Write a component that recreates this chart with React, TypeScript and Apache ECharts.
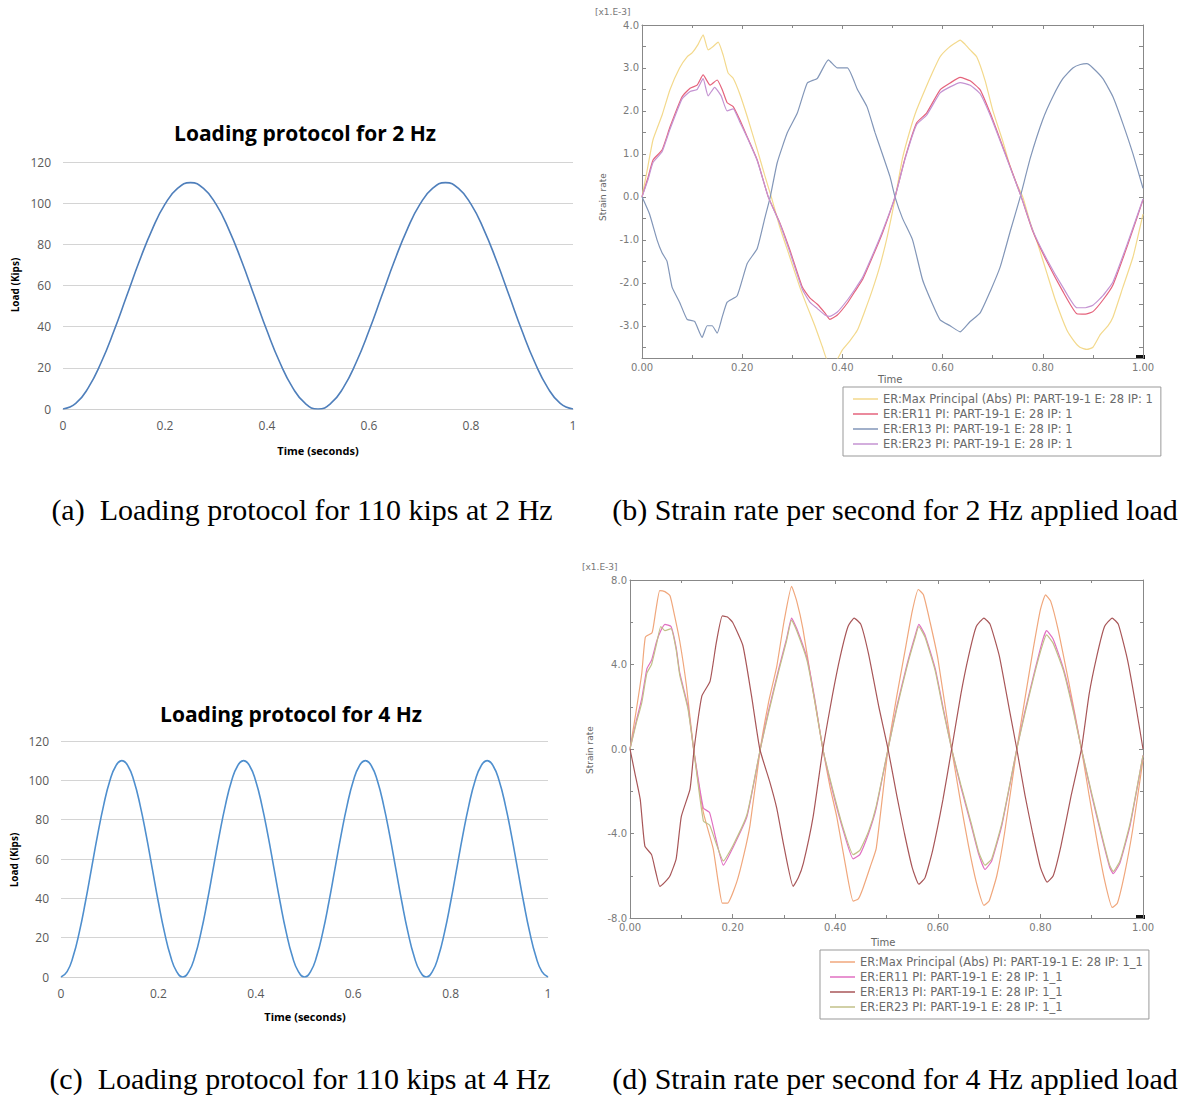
import React, { useEffect, useRef } from "react";
import * as echarts from "echarts";

// ---------- Panel (a): load, 2 Hz (kips), sampled every 0.025 s ----------
const loadStepA = 0.025;
const load2Hz = [0, 2.7, 10.5, 22.7, 38, 55, 72, 87.3, 99.5, 107.3, 110, 107.3, 99.5, 87.3, 72, 55, 38, 22.7, 10.5, 2.7, 0, 2.7, 10.5, 22.7, 38, 55, 72, 87.3, 99.5, 107.3, 110, 107.3, 99.5, 87.3, 72, 55, 38, 22.7, 10.5, 2.7, 0];

// ---------- Panel (c): load, 4 Hz (kips), sampled every 0.0125 s ----------
const loadStepC = 0.0125;
const load4Hz = [
  0, 2.7, 10.5, 22.7, 38, 55, 72, 87.3, 99.5, 107.3, 110, 107.3, 99.5, 87.3, 72, 55, 38, 22.7, 10.5, 2.7,
  0, 2.7, 10.5, 22.7, 38, 55, 72, 87.3, 99.5, 107.3, 110, 107.3, 99.5, 87.3, 72, 55, 38, 22.7, 10.5, 2.7,
  0, 2.7, 10.5, 22.7, 38, 55, 72, 87.3, 99.5, 107.3, 110, 107.3, 99.5, 87.3, 72, 55, 38, 22.7, 10.5, 2.7,
  0, 2.7, 10.5, 22.7, 38, 55, 72, 87.3, 99.5, 107.3, 110, 107.3, 99.5, 87.3, 72, 55, 38, 22.7, 10.5, 2.7,
  0,
];

// ---------- Panel (b): strain rate, 2 Hz (x1e-3) ----------
const bMaxT = [0, 0.01, 0.022, 0.04, 0.056, 0.075, 0.09, 0.1, 0.112, 0.122, 0.132, 0.142, 0.152, 0.162, 0.172, 0.182, 0.195, 0.21, 0.23, 0.245, 0.258, 0.275, 0.295, 0.315, 0.33, 0.345, 0.36, 0.372, 0.385, 0.4, 0.415, 0.43, 0.445, 0.46, 0.475, 0.49, 0.505, 0.52, 0.535, 0.548, 0.565, 0.58, 0.595, 0.61, 0.625, 0.635, 0.645, 0.655, 0.668, 0.685, 0.7, 0.72, 0.735, 0.748, 0.76, 0.775, 0.79, 0.808, 0.825, 0.848, 0.862, 0.874, 0.888, 0.9, 0.915, 0.93, 0.94, 0.96, 0.98, 1.0];
const bMaxV = [0, 0.6, 1.33, 1.9, 2.5, 3.0, 3.26, 3.35, 3.55, 3.77, 3.42, 3.5, 3.6, 3.3, 2.88, 2.76, 2.4, 1.87, 1.1, 0.5, 0, -0.7, -1.4, -2.1, -2.56, -3.0, -3.49, -3.85, -3.85, -3.56, -3.35, -3.1, -2.65, -2.16, -1.6, -0.9, -0.05, 0.9, 1.55, 2.02, 2.5, 2.9, 3.26, 3.45, 3.58, 3.65, 3.55, 3.42, 3.26, 2.7, 2.02, 1.3, 0.7, 0.3, 0, -0.6, -1.1, -1.77, -2.4, -3.1, -3.35, -3.5, -3.55, -3.5, -3.2, -3.0, -2.8, -2.1, -1.4, -0.4];

const bEr11T = [0, 0.012, 0.022, 0.04, 0.056, 0.08, 0.096, 0.11, 0.122, 0.136, 0.15, 0.16, 0.17, 0.182, 0.195, 0.21, 0.23, 0.252, 0.275, 0.295, 0.32, 0.335, 0.35, 0.365, 0.375, 0.39, 0.41, 0.425, 0.44, 0.46, 0.48, 0.505, 0.525, 0.548, 0.568, 0.595, 0.615, 0.635, 0.655, 0.675, 0.695, 0.715, 0.735, 0.757, 0.78, 0.808, 0.84, 0.868, 0.885, 0.9, 0.92, 0.94, 0.97, 1.0];
const bEr11V = [0, 0.45, 0.86, 1.09, 1.63, 2.33, 2.53, 2.6, 2.84, 2.6, 2.72, 2.5, 2.19, 2.1, 1.8, 1.4, 0.86, 0, -0.6, -1.23, -2.1, -2.35, -2.5, -2.7, -2.85, -2.75, -2.47, -2.2, -1.93, -1.4, -0.84, 0, 0.9, 1.72, 1.95, 2.49, 2.65, 2.78, 2.7, 2.49, 1.95, 1.33, 0.7, 0, -0.8, -1.5, -2.2, -2.72, -2.73, -2.67, -2.4, -2.05, -1.1, -0.07];

const bEr23T = [0, 0.012, 0.022, 0.04, 0.056, 0.08, 0.096, 0.11, 0.122, 0.132, 0.145, 0.158, 0.17, 0.182, 0.195, 0.21, 0.23, 0.252, 0.275, 0.295, 0.32, 0.335, 0.35, 0.365, 0.375, 0.39, 0.41, 0.425, 0.44, 0.46, 0.48, 0.505, 0.525, 0.548, 0.568, 0.595, 0.615, 0.635, 0.655, 0.675, 0.695, 0.715, 0.735, 0.757, 0.78, 0.808, 0.84, 0.868, 0.885, 0.9, 0.92, 0.94, 0.97, 1.0];
const bEr23V = [0, 0.4, 0.8, 1.05, 1.58, 2.28, 2.45, 2.5, 2.75, 2.35, 2.55, 2.35, 2.0, 2.05, 1.75, 1.38, 0.84, 0, -0.62, -1.28, -2.15, -2.45, -2.6, -2.75, -2.78, -2.68, -2.4, -2.15, -1.88, -1.36, -0.8, 0, 0.88, 1.68, 1.9, 2.42, 2.56, 2.66, 2.6, 2.4, 1.9, 1.3, 0.68, 0, -0.78, -1.45, -2.1, -2.58, -2.58, -2.52, -2.3, -1.98, -1.05, -0.05];

const bEr13T = [0, 0.015, 0.03, 0.04, 0.05, 0.06, 0.075, 0.09, 0.105, 0.12, 0.13, 0.14, 0.15, 0.16, 0.17, 0.19, 0.21, 0.23, 0.245, 0.256, 0.27, 0.29, 0.31, 0.33, 0.35, 0.372, 0.39, 0.41, 0.43, 0.449, 0.465, 0.475, 0.495, 0.505, 0.52, 0.54, 0.56, 0.58, 0.595, 0.615, 0.635, 0.655, 0.675, 0.695, 0.715, 0.735, 0.755, 0.775, 0.8, 0.82, 0.84, 0.86, 0.875, 0.888, 0.9, 0.92, 0.94, 0.96, 0.98, 1.0];
const bEr13V = [0, -0.4, -1.0, -1.3, -1.5, -2.1, -2.45, -2.85, -2.9, -3.27, -3.0, -3.0, -3.17, -2.8, -2.45, -2.3, -1.55, -1.2, -0.5, 0, 0.8, 1.49, 1.95, 2.65, 2.76, 3.19, 3.0, 3.0, 2.5, 2.1, 1.5, 1.16, 0.47, 0, -0.5, -1.0, -1.93, -2.5, -2.86, -3.0, -3.14, -2.9, -2.7, -2.2, -1.63, -0.8, 0, 0.9, 1.8, 2.33, 2.75, 3.0, 3.08, 3.1, 3.0, 2.75, 2.33, 1.7, 1.0, 0.2];

const bTickLabels = [-3, -2, -1, 0, 1, 2, 3, 4];
const bTicks = [-3.5, -3, -2.5, -2, -1.5, -1, -0.5, 0, 0.5, 1, 1.5, 2, 2.5, 3, 3.5, 4];

// ---------- Panel (d): strain rate, 4 Hz (x1e-3) ----------
const dMaxT = [0, 0.012, 0.023, 0.03, 0.043, 0.05, 0.058, 0.068, 0.078, 0.087, 0.097, 0.11, 0.124, 0.143, 0.162, 0.172, 0.18, 0.19, 0.208, 0.222, 0.234, 0.254, 0.27, 0.286, 0.3, 0.315, 0.325, 0.337, 0.355, 0.376, 0.39, 0.403, 0.42, 0.435, 0.445, 0.454, 0.468, 0.48, 0.503, 0.52, 0.535, 0.55, 0.562, 0.572, 0.585, 0.6, 0.627, 0.645, 0.66, 0.675, 0.69, 0.7, 0.715, 0.73, 0.754, 0.77, 0.785, 0.8, 0.81, 0.82, 0.835, 0.855, 0.88, 0.895, 0.91, 0.925, 0.94, 0.95, 0.965, 0.98, 1.0];
const dMaxV = [0, 1.8, 3.6, 5.3, 5.5, 6.5, 7.5, 7.45, 7.25, 6.3, 5.1, 3.0, 0, -3.0, -4.7, -6.3, -7.3, -7.3, -6.3, -5.0, -3.6, 0, 2.2, 3.9, 6.0, 7.7, 7.0, 5.7, 3.0, 0, -1.8, -3.2, -5.5, -7.2, -7.1, -6.6, -5.6, -4.7, 0, 2.5, 4.5, 6.5, 7.55, 7.3, 6.0, 4.3, 0, -2.6, -4.6, -6.3, -7.4, -7.2, -6.0, -4.0, 0, 2.4, 4.6, 6.6, 7.3, 7.0, 5.6, 3.2, 0, -2.2, -4.3, -6.2, -7.5, -7.3, -5.8, -3.8, -0.5];

const dEr11T = [0, 0.012, 0.023, 0.033, 0.042, 0.052, 0.06, 0.068, 0.08, 0.09, 0.097, 0.113, 0.124, 0.143, 0.155, 0.167, 0.182, 0.2, 0.228, 0.254, 0.27, 0.29, 0.305, 0.315, 0.325, 0.345, 0.36, 0.376, 0.395, 0.415, 0.435, 0.448, 0.465, 0.48, 0.503, 0.52, 0.54, 0.555, 0.563, 0.575, 0.595, 0.61, 0.627, 0.645, 0.665, 0.68, 0.692, 0.705, 0.725, 0.754, 0.77, 0.79, 0.805, 0.812, 0.825, 0.845, 0.865, 0.88, 0.9, 0.92, 0.935, 0.942, 0.955, 0.975, 1.0];
const dEr11V = [0, 1.3, 2.4, 3.8, 4.2, 5.1, 5.6, 5.9, 5.8, 4.8, 3.6, 2.0, 0, -2.8, -3.0, -4.2, -5.5, -4.7, -3.2, 0, 1.8, 3.8, 5.2, 6.2, 5.7, 4.3, 2.4, 0, -2.0, -3.8, -5.2, -5.0, -4.0, -2.8, 0, 2.0, 4.0, 5.3, 5.9, 5.4, 3.8, 2.0, 0, -1.8, -3.6, -5.0, -5.7, -5.3, -3.6, 0, 1.8, 3.8, 5.2, 5.6, 5.2, 3.8, 1.8, 0, -2.2, -4.2, -5.6, -5.9, -5.4, -3.6, -0.3];

const dEr23T = [0, 0.012, 0.023, 0.033, 0.042, 0.052, 0.06, 0.068, 0.08, 0.09, 0.097, 0.113, 0.124, 0.143, 0.155, 0.167, 0.182, 0.2, 0.228, 0.254, 0.27, 0.29, 0.305, 0.315, 0.325, 0.345, 0.36, 0.376, 0.395, 0.415, 0.435, 0.448, 0.465, 0.48, 0.503, 0.52, 0.54, 0.555, 0.563, 0.575, 0.595, 0.61, 0.627, 0.645, 0.665, 0.68, 0.692, 0.705, 0.725, 0.754, 0.77, 0.79, 0.805, 0.812, 0.825, 0.845, 0.865, 0.88, 0.9, 0.92, 0.935, 0.942, 0.955, 0.975, 1.0];
const dEr23V = [0, 1.2, 2.2, 3.6, 4.0, 5.0, 5.8, 5.6, 5.7, 4.7, 3.5, 1.9, 0, -3.4, -3.6, -4.4, -5.3, -4.6, -3.1, 0, 1.7, 3.7, 5.1, 6.1, 5.6, 4.2, 2.3, 0, -1.9, -3.7, -5.0, -4.8, -3.9, -2.7, 0, 1.9, 3.9, 5.2, 5.8, 5.3, 3.7, 1.9, 0, -1.7, -3.5, -4.9, -5.5, -5.2, -3.5, 0, 1.7, 3.7, 5.0, 5.4, 5.0, 3.7, 1.7, 0, -2.1, -4.1, -5.5, -5.8, -5.3, -3.5, -0.3];

const dEr13T = [0, 0.01, 0.02, 0.029, 0.042, 0.05, 0.058, 0.068, 0.078, 0.09, 0.1, 0.117, 0.125, 0.14, 0.156, 0.168, 0.18, 0.19, 0.2, 0.22, 0.237, 0.253, 0.273, 0.286, 0.3, 0.318, 0.328, 0.338, 0.357, 0.376, 0.395, 0.41, 0.425, 0.437, 0.45, 0.465, 0.485, 0.503, 0.52, 0.535, 0.55, 0.563, 0.575, 0.59, 0.61, 0.627, 0.645, 0.66, 0.675, 0.69, 0.702, 0.72, 0.74, 0.754, 0.77, 0.785, 0.8, 0.813, 0.825, 0.84, 0.86, 0.88, 0.895, 0.91, 0.925, 0.94, 0.952, 0.97, 0.985, 1.0];
const dEr13V = [0, -1.2, -2.4, -4.6, -5.0, -5.8, -6.5, -6.3, -6.0, -5.2, -3.2, -1.9, 0, 2.5, 3.2, 5.0, 6.3, 6.25, 6.0, 4.9, 2.5, 0, -1.6, -2.8, -4.6, -6.5, -6.1, -5.4, -3.2, 0, 2.6, 4.4, 5.8, 6.2, 5.9, 4.5, 2.0, 0, -2.2, -4.0, -5.6, -6.4, -6.1, -4.8, -2.4, 0, 2.6, 4.4, 5.8, 6.2, 5.9, 4.4, 1.8, 0, -2.2, -4.0, -5.6, -6.3, -6.0, -4.6, -2.2, 0, 2.6, 4.4, 5.8, 6.2, 5.9, 4.2, 2.2, 0];

const namesB = [
  "ER:Max Principal (Abs) PI: PART-19-1 E: 28 IP: 1",
  "ER:ER11 PI: PART-19-1 E: 28 IP: 1",
  "ER:ER13 PI: PART-19-1 E: 28 IP: 1",
  "ER:ER23 PI: PART-19-1 E: 28 IP: 1",
];
const namesD = [
  "ER:Max Principal (Abs) PI: PART-19-1 E: 28 IP: 1_1",
  "ER:ER11 PI: PART-19-1 E: 28 IP: 1_1",
  "ER:ER13 PI: PART-19-1 E: 28 IP: 1_1",
  "ER:ER23 PI: PART-19-1 E: 28 IP: 1_1",
];
const colorsB = ["#f3d98c", "#e5637c", "#8296b8", "#c493d2"];
const colorsD = ["#f0a77c", "#e16fc2", "#a85658", "#c2c088"];

const zip = (t: number[], v: number[]) => t.map((x, i) => [x, v[i]]);
const grid = (v: number[], step: number) => v.map((y, i) => [+(i * step).toFixed(4), y]);

const excelFont = "'Open Sans', 'Liberation Sans', sans-serif";
const abqFont = "'DejaVu Sans', sans-serif";
const serif = "'Liberation Serif', 'DejaVu Serif', serif";

function excelX(gridIndex: number) {
  return {
    type: "value", gridIndex, min: 0, max: 1, interval: 0.2,
    axisLine: { lineStyle: { color: "#d0d0d0" } },
    axisTick: { show: false },
    splitLine: { show: false },
    axisLabel: { color: "#595959", fontSize: 12, fontFamily: excelFont, margin: 10 },
  };
}
function excelY(gridIndex: number) {
  return {
    type: "value", gridIndex, min: 0, max: 120, interval: 20,
    axisLine: { show: false }, axisTick: { show: false },
    splitLine: { lineStyle: { color: "#d4d4d4" } },
    axisLabel: { color: "#595959", fontSize: 12, fontFamily: excelFont, margin: 12 },
  };
}
const abqLine = { onZero: false, lineStyle: { color: "#888888", width: 1 } };
const abqTick = { inside: true, length: 4, lineStyle: { color: "#888888" } };
function abqX(gridIndex: number, top: boolean) {
  return {
    type: "value", gridIndex, min: 0, max: 1, interval: 0.2, position: top ? "top" : "bottom",
    axisLine: abqLine, axisTick: abqTick,
    minorTick: { show: true, splitNumber: 2, length: 3, lineStyle: { color: "#888888" } },
    splitLine: { show: false },
    axisLabel: top ? { show: false } : { color: "#7a7a7a", fontSize: 10, fontFamily: abqFont, margin: 4, formatter: (v: number) => v.toFixed(2) },
  };
}

function buildOption() {
  const lineS = (name: string, data: any, color: string, xi: number, yi: number, w = 1.2) => ({
    type: "line", name, data, xAxisIndex: xi, yAxisIndex: yi, showSymbol: false, symbol: "none",
    lineStyle: { color, width: w }, itemStyle: { color }, clip: true, silent: true,
  });
  const legendBase = {
    orient: "vertical", icon: "rect", itemWidth: 25, itemHeight: 1.5, itemGap: 3,
    textStyle: { fontSize: 11.5, color: "#6a6a6a", fontFamily: abqFont, lineHeight: 11 },
    borderColor: "#999", borderWidth: 1, backgroundColor: "#fff", selectedMode: false,
  };
  const txt = (x: number, y: number, text: string, style: any, rotation = 0) => ({
    type: "text", x, y, rotation, style: { text, ...style },
  });
  return {
    animation: false,
    backgroundColor: "#ffffff",
    grid: [
      { left: 63, top: 162, width: 510, height: 247 },
      { left: 642, top: 25, width: 501, height: 333 },
      { left: 61, top: 741, width: 487, height: 236 },
      { left: 630, top: 580, width: 513, height: 338 },
    ],
    xAxis: [
      excelX(0),
      abqX(1, false),
      abqX(1, true),
      excelX(2),
      abqX(3, false),
      abqX(3, true),
    ],
    yAxis: [
      excelY(0),
      {
        type: "value", gridIndex: 1, min: -3.75, max: 4, position: "left",
        axisLine: abqLine, axisTick: { ...abqTick, customValues: bTicks },
        splitLine: { show: false },
        axisLabel: { customValues: bTickLabels, color: "#7a7a7a", fontSize: 10, fontFamily: abqFont, margin: 3, formatter: (v: number) => v.toFixed(1) },
      },
      {
        type: "value", gridIndex: 1, min: -3.75, max: 4, position: "right",
        axisLine: abqLine, axisTick: { ...abqTick, customValues: bTicks },
        splitLine: { show: false }, axisLabel: { show: false },
      },
      excelY(2),
      {
        type: "value", gridIndex: 3, min: -8, max: 8, interval: 4, position: "left",
        axisLine: abqLine, axisTick: abqTick,
        minorTick: { show: true, splitNumber: 2, length: 3, lineStyle: { color: "#888888" } },
        splitLine: { show: false },
        axisLabel: { color: "#7a7a7a", fontSize: 10, fontFamily: abqFont, margin: 3, formatter: (v: number) => v.toFixed(1) },
      },
      {
        type: "value", gridIndex: 3, min: -8, max: 8, interval: 4, position: "right",
        axisLine: abqLine, axisTick: abqTick,
        minorTick: { show: true, splitNumber: 2, length: 3, lineStyle: { color: "#888888" } },
        splitLine: { show: false }, axisLabel: { show: false },
      },
    ],
    legend: [
      { ...legendBase, left: 843, top: 387, padding: [6, 8, 6, 10], data: namesB },
      { ...legendBase, left: 820, top: 950, padding: [6, 6, 6, 10], data: namesD },
    ],
    series: [
      lineS("Load 2 Hz", grid(load2Hz, loadStepA), "#4f7fbb", 0, 0, 1.6),
      lineS(namesB[0], zip(bMaxT, bMaxV), colorsB[0], 1, 1),
      lineS(namesB[1], zip(bEr11T, bEr11V), colorsB[1], 1, 1),
      lineS(namesB[2], zip(bEr13T, bEr13V), colorsB[2], 1, 1),
      lineS(namesB[3], zip(bEr23T, bEr23V), colorsB[3], 1, 1),
      lineS("Load 4 Hz", grid(load4Hz, loadStepC), "#4f8fce", 3, 3, 1.6),
      lineS(namesD[0], zip(dMaxT, dMaxV), colorsD[0], 4, 4),
      lineS(namesD[1], zip(dEr11T, dEr11V), colorsD[1], 4, 4),
      lineS(namesD[3], zip(dEr23T, dEr23V), colorsD[3], 4, 4),
      lineS(namesD[2], zip(dEr13T, dEr13V), colorsD[2], 4, 4),
    ].map((s: any) => ({ ...s, smooth: s.name.startsWith("Load") ? true : 0.15 })),
    graphic: [
      // panel (a)
      txt(305, 133, "Loading protocol for 2 Hz", { font: `bold 21px ${excelFont}`, fill: "#000", align: "center", verticalAlign: "middle" }),
      txt(15, 285, "Load (Kips)", { font: `bold 10px ${excelFont}`, fill: "#000", align: "center", verticalAlign: "middle" }, Math.PI / 2),
      txt(318, 450, "Time (seconds)", { font: `bold 11px ${excelFont}`, fill: "#000", align: "center", verticalAlign: "middle" }),
      txt(302, 509, "(a)  Loading protocol for 110 kips at 2 Hz", { font: `30px ${serif}`, fill: "#000", align: "center", verticalAlign: "middle" }),
      // panel (c)
      txt(291, 714, "Loading protocol for 4 Hz", { font: `bold 21px ${excelFont}`, fill: "#000", align: "center", verticalAlign: "middle" }),
      txt(14, 860, "Load (Kips)", { font: `bold 10px ${excelFont}`, fill: "#000", align: "center", verticalAlign: "middle" }, Math.PI / 2),
      txt(305, 1016, "Time (seconds)", { font: `bold 11px ${excelFont}`, fill: "#000", align: "center", verticalAlign: "middle" }),
      txt(300, 1078, "(c)  Loading protocol for 110 kips at 4 Hz", { font: `30px ${serif}`, fill: "#000", align: "center", verticalAlign: "middle" }),
      // panel (b)
      txt(595, 12, "[x1.E-3]", { font: `9px ${abqFont}`, fill: "#777", align: "left", verticalAlign: "middle" }),
      txt(603, 197, "Strain rate", { font: `9px ${abqFont}`, fill: "#666", align: "center", verticalAlign: "middle" }, Math.PI / 2),
      txt(878, 379, "Time", { font: `10px ${abqFont}`, fill: "#666", align: "left", verticalAlign: "middle" }),
      { type: "rect", shape: { x: 1136, y: 355, width: 9, height: 4 }, style: { fill: "#111" } },
      txt(895, 509, "(b) Strain rate per second for 2 Hz applied load", { font: `30px ${serif}`, fill: "#000", align: "center", verticalAlign: "middle" }),
      // panel (d)
      txt(582, 567, "[x1.E-3]", { font: `9px ${abqFont}`, fill: "#777", align: "left", verticalAlign: "middle" }),
      txt(590, 750, "Strain rate", { font: `9px ${abqFont}`, fill: "#666", align: "center", verticalAlign: "middle" }, Math.PI / 2),
      txt(871, 942, "Time", { font: `10px ${abqFont}`, fill: "#666", align: "left", verticalAlign: "middle" }),
      { type: "rect", shape: { x: 1136, y: 915, width: 9, height: 4 }, style: { fill: "#111" } },
      txt(895, 1078, "(d) Strain rate per second for 4 Hz applied load", { font: `30px ${serif}`, fill: "#000", align: "center", verticalAlign: "middle" }),
    ],
  };
}

export default function App() {
  const ref = useRef<HTMLDivElement>(null);
  useEffect(() => {
    if (!ref.current) return;
    const chart = echarts.init(ref.current, undefined, { renderer: "svg" });
    chart.setOption(buildOption() as any);
    return () => chart.dispose();
  }, []);
  return (
    <div
      ref={ref}
      style={{ position: "absolute", left: 0, top: 0, width: 1190, height: 1095, background: "#fff" }}
    />
  );
}
